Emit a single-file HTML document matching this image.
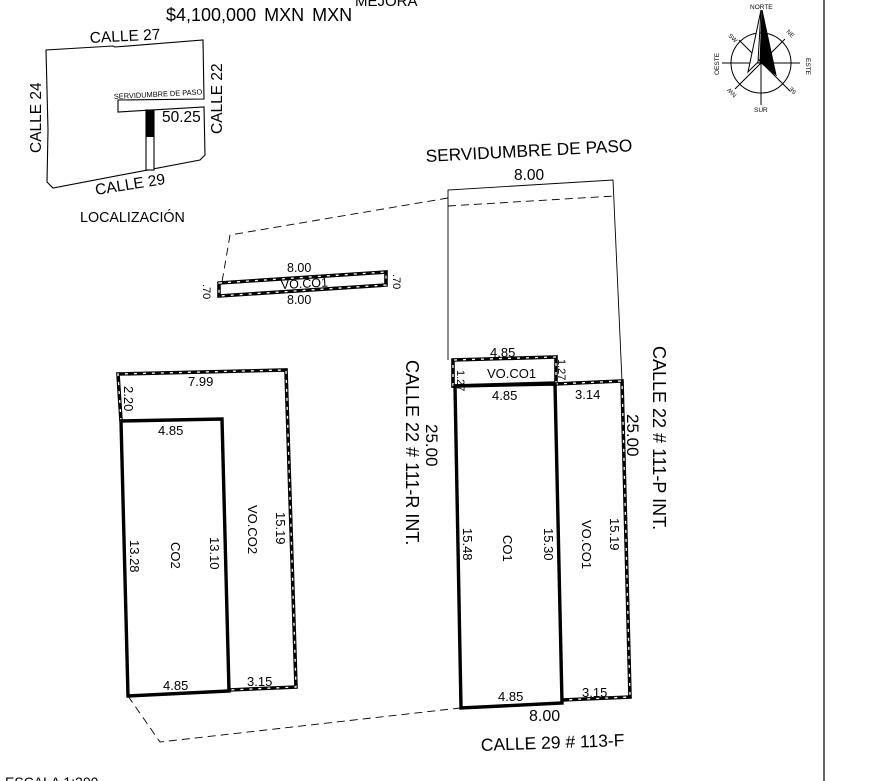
<!DOCTYPE html>
<html><head><meta charset="utf-8"><style>
html,body{margin:0;padding:0;background:#fff}
svg{display:block}
text{font-family:"Liberation Sans",sans-serif;fill:#000}
</style></head><body>
<svg width="874" height="781" viewBox="0 0 874 781" xmlns="http://www.w3.org/2000/svg">
<line x1="824" y1="0" x2="824" y2="781" stroke="#000" stroke-width="1.2"/>
<text x="166" y="21" font-size="18" word-spacing="3">$4,100,000 MXN  MXN</text>
<text x="355" y="6" font-size="15">MEJORA</text>

<!-- locator -->
<g fill="none" stroke="#000" stroke-width="1.1">
<polyline points="118,107 118,112 204,107 205,155 200,160 53,188 47,182 48,130 46,50 113,46 115,47 203,40 204,99 118,100 118,107"/>
<rect x="146" y="110" width="8" height="60" fill="#fff"/>
</g>
<rect x="146" y="110" width="8" height="27" fill="#000"/>
<text x="90" y="43" font-size="15.5" transform="rotate(-3 90 43)">CALLE  27</text>
<text x="41" y="153" font-size="15.5" transform="rotate(-90 41 153)">CALLE  24</text>
<text x="222" y="134" font-size="15.5" transform="rotate(-90 222 134)">CALLE  22</text>
<text x="114" y="99" font-size="7.4" transform="rotate(-3 114 99)">SERVIDUMBRE DE PASO</text>
<text x="162" y="122" font-size="15.5">50.25</text>
<text x="96" y="195" font-size="15.5" transform="rotate(-9 96 195)">CALLE  29</text>
<text x="80" y="222" font-size="14.3">LOCALIZACIÓN</text>

<!-- compass -->
<g stroke="#000" stroke-width="1" fill="none">
<circle cx="761" cy="63" r="30"/>
<line x1="722" y1="63" x2="800" y2="63"/>
<line x1="761" y1="63" x2="761" y2="105"/>
<line x1="739" y1="40" x2="790" y2="91"/>
<line x1="785" y1="39" x2="735" y2="89"/>
<polygon points="761,10 748,72 758,62" fill="#fff"/>
<polygon points="762,10 760,62 776,75" fill="#000"/>
</g>
<text x="750" y="9" font-size="6.5">NORTE</text>
<text x="754" y="112" font-size="6.5">SUR</text>
<text x="806" y="58" font-size="6.5" transform="rotate(90 806 58)">ESTE</text>
<text x="719" y="75" font-size="6.5" transform="rotate(-90 719 75)">OESTE</text>
<text x="728" y="36" font-size="6" transform="rotate(45 728 36)">SW</text>
<text x="786" y="32" font-size="6" transform="rotate(45 786 32)">NE</text>
<text x="730" y="92" font-size="6" transform="rotate(-135 734 92)">NW</text>
<text x="792" y="94" font-size="6" transform="rotate(-135 794 92)">SE</text>

<!-- servidumbre -->
<text x="426" y="162" font-size="17.3" transform="rotate(-3 426 162)">SERVIDUMBRE DE PASO</text>
<text x="514" y="180" font-size="15.5">8.00</text>
<g fill="none" stroke="#000" stroke-width="0.9">
<polyline points="448,360 448,190 613,180 622,381"/>
<line x1="448" y1="206" x2="614" y2="196" stroke-dasharray="8,5"/>
<polyline points="448,198 230,235 222,282" stroke-dasharray="8,5"/>
<polyline points="128,696 160,742 460,708" stroke-dasharray="8,5"/>
</g>

<!-- dashed bold lines -->
<g fill="none">
<g stroke="#000" stroke-width="3.6">
<polygon points="219,283 386,272 386,285 219,296"/>
<polyline points="121,421 118,374 286,370 296,687 229,690"/>
<polygon points="453,386 453,360 556,357 556,383"/>
<polyline points="555,384 622,381 630,697 562,700"/>
</g>
<g stroke="#fff" stroke-width="1.3" stroke-dasharray="3,6">
<polygon points="219,283 386,272 386,285 219,296"/>
<polyline points="121,421 118,374 286,370 296,687 229,690"/>
<polygon points="453,386 453,360 556,357 556,383"/>
<polyline points="555,384 622,381 630,697 562,700"/>
</g>
<g stroke="#000" stroke-width="3.4">
<polygon points="121,421 222,419 229,691 128,696"/>
<polygon points="455,386 555,384 562,703 461,708"/>
</g>
</g>

<!-- small strip labels -->
<g font-size="12.5">
<text x="287" y="272">8.00</text>
<text x="281" y="289" transform="rotate(-3 281 289)">VO.CO1</text>
<text x="287" y="304">8.00</text>
<text x="203" y="284" transform="rotate(90 203 284)" font-size="11">.70</text>
<text x="393" y="274" transform="rotate(90 393 274)" font-size="11">.70</text>
</g>

<!-- CO2 labels -->
<g font-size="13">
<text x="188" y="386">7.99</text>
<text x="124" y="386" transform="rotate(90 124 386)">2.20</text>
<text x="158" y="435">4.85</text>
<text x="130" y="540" transform="rotate(90 130 540)">13.28</text>
<text x="171" y="542" transform="rotate(90 171 542)">CO2</text>
<text x="210" y="537" transform="rotate(90 210 537)">13.10</text>
<text x="248" y="505" transform="rotate(90 248 505)">VO.CO2</text>
<text x="276" y="512" transform="rotate(90 276 512)">15.19</text>
<text x="163" y="690">4.85</text>
<text x="247" y="686">3.15</text>
</g>

<!-- CO1 labels -->
<g font-size="13">
<text x="490" y="357">4.85</text>
<text x="487" y="378">VO.CO1</text>
<text x="492" y="400">4.85</text>
<text x="575" y="399">3.14</text>
<text x="457" y="370" transform="rotate(90 457 370)" font-size="11">1.27</text>
<text x="558" y="359" transform="rotate(90 558 359)" font-size="11">1.27</text>
<text x="463" y="528" transform="rotate(90 463 528)">15.48</text>
<text x="503" y="535" transform="rotate(90 503 535)">CO1</text>
<text x="544" y="528" transform="rotate(90 544 528)">15.30</text>
<text x="582" y="520" transform="rotate(90 582 520)">VO.CO1</text>
<text x="610" y="518" transform="rotate(90 610 518)">15.19</text>
<text x="498" y="701">4.85</text>
<text x="582" y="697">3.15</text>
</g>
<text x="529" y="721" font-size="16">8.00</text>
<text x="481" y="751" font-size="17.5" transform="rotate(-2 481 751)">CALLE 29 # 113-F</text>
<text x="426" y="424" font-size="17" transform="rotate(90 426 424)">25.00</text>
<text x="406" y="360" font-size="18" transform="rotate(90 406 360)">CALLE 22 # 111-R INT.</text>
<text x="627" y="414" font-size="17" transform="rotate(90 627 414)">25.00</text>
<text x="653" y="346" font-size="18" transform="rotate(90 653 346)">CALLE 22 # 111-P INT.</text>
<text x="5" y="787" font-size="14">ESCALA 1:200</text>
</svg>
</body></html>
